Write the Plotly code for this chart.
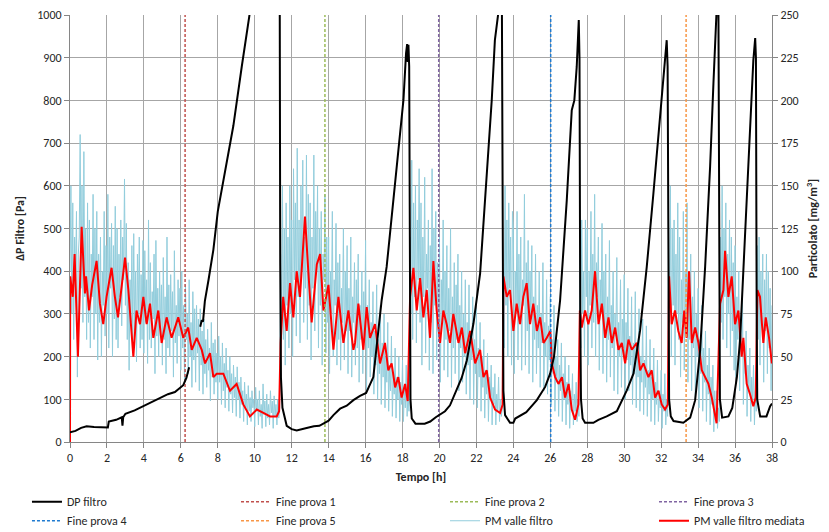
import plotly.graph_objects as go

# ---------------- DATA ----------------
# DP filtro (Pa) - left axis
dp_t = [0.0, 0.3, 0.6, 0.9, 1.3, 1.7, 2.05, 2.1, 2.5, 2.8, 2.84, 2.88, 3.0, 3.5, 4.06, 4.5, 4.96, 5.3, 5.68, 6.13, 6.3, 6.45,
        6.5,
        7.05, 7.13, 7.2, 7.3, 7.5, 7.76, 8.0, 8.3, 8.84, 9.3, 9.66, 9.75, 10.5, 11.35, 11.38, 11.42, 11.5, 11.73, 12.0, 12.27,
        12.81, 13.2, 13.5, 13.72, 14.0, 14.26, 14.62, 14.98, 15.34, 15.7, 16.03, 16.42, 16.69, 16.87, 17.14, 17.51, 17.78,
        18.05, 18.19, 18.25, 18.28, 18.32, 18.36, 18.4, 18.43, 18.5, 18.7, 19.2, 19.5, 19.8, 20.0, 20.3, 20.57, 20.94, 21.2,
        21.48, 21.84, 22.2, 22.56, 22.83, 23.0, 23.15, 23.2, 23.38, 23.42, 23.46, 23.55, 23.82, 24.0, 24.1, 24.7, 25.27, 25.72,
        25.99, 26.2, 26.35, 26.53, 26.89, 27.16, 27.3, 27.43, 27.54, 27.58, 27.62, 27.66, 27.75, 27.88, 28.33, 28.6, 29.05,
        29.6, 30.14, 30.5, 30.86, 31.22, 31.58, 31.94, 32.21, 32.3, 32.35, 32.39, 32.43, 32.52, 32.67, 33.2, 33.57, 33.84,
        34.11, 34.38, 34.65, 34.83, 34.98, 35.0, 35.1, 35.14, 35.18, 35.3, 35.64, 35.85, 36.1, 36.27, 36.55, 36.82, 36.99,
        37.09, 37.13, 37.17, 37.2, 37.36, 37.7, 37.9, 38.0]
dp_v = [23, 26, 33, 37, 35, 34, 34, 48, 52, 58, 38, 58, 66, 74, 86, 96, 106, 112, 117, 133, 150, 175,
        None,
        270, 285, 282, 330, 380, 450, 540, 610, 740, 880, 990, 1010, 1100, 1100, 420, 150, 80, 38, 30, 27,
        33, 37, 38, 43, 50, 63, 78, 85, 98, 108, 115, 152, 262, 332, 410, 566, 684,
        801, 910, 932, 890, 930, 880, 300, 100, 55, 43, 43, 48, 58, 63, 72, 86, 125, 150,
        191, 278, 395, 629, 801, 941, 995, 1010, 1010, 400, 120, 63, 45, 45, 55, 70, 98, 129,
        160, 200, 254, 332, 566, 777, 800, 879, 988, 900, 300, 100, 55, 45, 45, 52, 60,
        72, 121, 160, 262, 410, 582, 762, 894, 941, 880, 300, 100, 60, 49, 45, 57, 98,
        215, 410, 645, 840, 990, 1010, 1010, 400, 100, 57, 60, 80, 152, 238, 488, 723, 894,
        946, 900, 300, 100, 60, 60, 84, 90]

# End-of-test markers (h)
fine_names = ["Fine prova 1", "Fine prova 2", "Fine prova 3", "Fine prova 4", "Fine prova 5"]
fine_t = [6.23, 13.8, 19.96, 26.02, 33.35]
fine_colors = ["#C0504D", "#9BBB59", "#8064A2", "#1F7BD0", "#F79646"]

# PM valle filtro mediata (mg/m3) - right axis
red_t = [0.0, 0.01, 0.15, 0.25, 0.43, 0.63, 0.81, 0.87, 1.03, 1.2, 1.44, 1.62, 1.8, 1.98, 2.25, 2.43, 2.6, 2.79, 2.98,
         3.16, 3.43, 3.6, 3.79, 3.97, 4.15, 4.33, 4.51, 4.78, 4.96, 5.23, 5.5, 5.86, 6.13, 6.4, 6.59, 6.86, 7.13, 7.31,
         7.58, 7.76, 7.94, 8.3, 8.66, 9.02, 9.38, 9.74, 10.11, 10.47, 10.83, 11.19, 11.32, 11.4, 11.54, 11.73, 11.91,
         12.09, 12.27, 12.45, 12.72, 12.9, 13.08, 13.36, 13.54, 13.72, 13.99, 14.26, 14.53, 14.8, 15.07, 15.34, 15.43,
         15.61, 15.75, 15.88, 16.06, 16.24, 16.51, 16.78, 17.05, 17.23, 17.41, 17.6, 17.77, 17.95, 18.14, 18.28, 18.41,
         18.59, 18.77, 18.95, 19.13, 19.31, 19.49, 19.67, 19.85, 20.03, 20.21, 20.39, 20.57, 20.75, 21.03, 21.21, 21.39,
         21.66, 21.93, 22.2, 22.38, 22.56, 22.74, 23.01, 23.28, 23.42, 23.46, 23.64, 23.82, 24.0, 24.18, 24.36, 24.54,
         24.72, 24.9, 25.08, 25.27, 25.45, 25.63, 25.81, 26.0, 26.08, 26.26, 26.44, 26.63, 26.8, 26.99, 27.16, 27.34,
         27.52, 27.6, 27.7, 27.88, 28.06, 28.24, 28.42, 28.61, 28.79, 28.97, 29.15, 29.33, 29.51, 29.69, 29.87, 30.05,
         30.23, 30.41, 30.68, 30.86, 31.04, 31.31, 31.49, 31.67, 31.85, 32.03, 32.21, 32.36, 32.43, 32.57, 32.75, 32.93,
         33.11, 33.25, 33.38, 33.51, 33.66, 33.84, 34.02, 34.2, 34.38, 34.56, 34.74, 34.92, 35.0, 35.19, 35.37, 35.46,
         35.64, 35.82, 36.0, 36.18, 36.36, 36.45, 36.63, 36.81, 36.99, 37.12, 37.21, 37.35, 37.53, 37.66, 37.84, 37.99]
red_v = [0, 97, 85, 110, 50, 126, 87, 97, 77, 92, 106, 81, 69, 85, 102, 85, 73, 92, 108,
         89, 50, 77, 69, 85, 69, 81, 61, 77, 58, 73, 61, 73, 61, 67, 54, 61, 54, 46,
         52, 38, 40, 40, 30, 34, 22, 15, 19, 17, 15, 15, 18, 58, 85, 65, 93,
         73, 100, 85, 132, 100, 70, 104, 110, 77, 92, 54, 85, 58, 77, 54, 58,
         81, 65, 54, 79, 61, 69, 46, 58, 42, 46, 32, 38, 26, 34, 24, 85,
         102, 77, 96, 73, 89, 61, 106, 77, 58, 77, 69, 58, 75, 58, 67, 52,
         65, 46, 54, 38, 42, 26, 19, 17, 22, 97, 85, 89, 65, 81, 69, 85,
         93, 69, 81, 65, 73, 58, 61, 65, 46, 38, 34, 38, 26, 34, 19, 13,
         22, 77, 67, 77, 69, 77, 100, 69, 81, 61, 73, 58, 67, 54, 58, 46,
         60, 54, 58, 42, 46, 38, 42, 26, 30, 22, 19, 22, 97, 69, 77, 65,
         58, 77, 61, 100, 58, 67, 58, 42, 38, 34, 26, 15, 11, 81, 89, 112,
         85, 97, 69, 77, 50, 61, 34, 28, 21, 26, 89, 85, 58, 73, 61, 46]

# PM valle filtro (mg/m3): one row per hour, one reading every 0.05 h
blue_rows = [
    [100, 150, 75, 140, 60, 120, 95, 135, 38, 110, 120, 180, 90, 150, 70, 170, 85, 125, 60, 140],
    [70, 130, 55, 110, 85, 145, 60, 125, 75, 135, 48, 110, 70, 120, 50, 100, 80, 135, 62, 115],
    [75, 145, 55, 120, 90, 128, 50, 115, 72, 138, 60, 125, 55, 110, 85, 130, 68, 120, 95, 154],
    [80, 128, 60, 105, 42, 95, 70, 115, 58, 122, 65, 100, 47, 110, 75, 120, 55, 98, 60, 118],
    [52, 112, 70, 95, 46, 130, 60, 105, 55, 88, 72, 110, 40, 118, 62, 90, 50, 100, 65, 92],
    [45, 108, 60, 85, 40, 120, 55, 92, 50, 98, 65, 88, 38, 112, 58, 80, 46, 95, 62, 90],
    [42, 100, 55, 80, 36, 92, 60, 75, 40, 95, 50, 70, 32, 88, 48, 78, 35, 80, 52, 72],
    [30, 78, 45, 65, 28, 72, 40, 60, 32, 66, 42, 55, 24, 70, 38, 58, 28, 60, 35, 52],
    [25, 62, 35, 50, 22, 58, 30, 46, 20, 55, 32, 42, 18, 50, 28, 40, 17, 45, 26, 38],
    [15, 44, 25, 35, 14, 38, 22, 30, 12, 35, 20, 28, 10, 33, 18, 26, 12, 30, 20, 25],
    [9, 32, 18, 25, 10, 30, 15, 22, 8, 34, 16, 24, 9, 28, 14, 22, 10, 30, 17, 24],
    [8, 27, 15, 22, 10, 25, 14, 20, 110, 70, 150, 60, 125, 45, 140, 80, 120, 55, 150, 75],
    [130, 50, 160, 95, 140, 62, 172, 85, 130, 58, 150, 100, 165, 70, 120, 90, 168, 60, 145, 80],
    [140, 48, 120, 90, 168, 65, 135, 100, 150, 55, 125, 80, 135, 45, 110, 95, 145, 52, 120, 70],
    [120, 40, 100, 75, 135, 50, 95, 80, 128, 45, 105, 60, 110, 42, 90, 70, 125, 48, 100, 65],
    [115, 40, 90, 65, 120, 38, 85, 70, 105, 45, 95, 55, 110, 35, 80, 60, 100, 40, 88, 58],
    [118, 30, 80, 55, 95, 38, 70, 50, 88, 28, 65, 45, 92, 25, 60, 40, 80, 22, 58, 38],
    [75, 20, 50, 35, 70, 18, 45, 30, 62, 15, 40, 28, 55, 14, 38, 25, 50, 12, 35, 22],
    [48, 12, 32, 20, 45, 15, 30, 18, 120, 75, 165, 60, 140, 85, 150, 58, 130, 95, 160, 70],
    [140, 45, 120, 85, 155, 52, 110, 90, 130, 42, 115, 70, 160, 40, 125, 80, 135, 48, 105, 75],
    [120, 35, 95, 70, 130, 42, 100, 60, 115, 38, 90, 65, 125, 32, 85, 55, 105, 40, 92, 60],
    [110, 30, 80, 55, 100, 35, 75, 50, 95, 28, 70, 45, 92, 25, 65, 48, 85, 22, 60, 40],
    [78, 20, 55, 38, 70, 18, 50, 32, 60, 14, 42, 28, 52, 12, 38, 25, 45, 10, 32, 22],
    [40, 10, 28, 18, 38, 12, 25, 15, 20, 100, 55, 150, 80, 130, 50, 140, 90, 120, 45, 135],
    [125, 40, 100, 75, 135, 48, 110, 70, 120, 42, 95, 80, 145, 45, 105, 65, 118, 40, 100, 72],
    [115, 35, 85, 60, 110, 40, 80, 55, 100, 32, 75, 58, 105, 30, 70, 50, 95, 28, 68, 48],
    [85, 22, 60, 40, 80, 18, 50, 35, 60, 15, 45, 30, 58, 12, 40, 25, 50, 10, 35, 22],
    [45, 8, 30, 20, 40, 10, 28, 18, 35, 12, 25, 15, 110, 55, 130, 75, 100, 50, 130, 85],
    [125, 45, 100, 80, 135, 55, 110, 70, 145, 50, 105, 85, 120, 42, 95, 75, 128, 40, 100, 65],
    [110, 35, 85, 60, 118, 38, 80, 55, 100, 30, 75, 62, 108, 28, 70, 50, 95, 32, 72, 55],
    [98, 25, 70, 48, 90, 30, 62, 45, 85, 22, 58, 40, 88, 20, 55, 38, 78, 18, 50, 35],
    [72, 16, 48, 32, 68, 15, 42, 28, 60, 12, 38, 25, 55, 10, 35, 22, 48, 12, 30, 20],
    [42, 8, 28, 18, 40, 10, 25, 15, 120, 70, 150, 50, 125, 80, 130, 45, 110, 75, 140, 60],
    [120, 38, 95, 70, 135, 42, 100, 65, 140, 35, 90, 60, 110, 30, 85, 55, 100, 25, 75, 50],
    [90, 20, 60, 40, 80, 18, 55, 35, 65, 12, 45, 28, 55, 10, 38, 22, 45, 6, 30, 15],
    [30, 8, 20, 12, 120, 70, 150, 60, 125, 85, 140, 55, 110, 75, 130, 50, 120, 65, 105, 42],
    [115, 38, 85, 60, 100, 30, 70, 50, 85, 22, 55, 40, 65, 15, 45, 30, 55, 12, 38, 25],
    [45, 10, 30, 18, 115, 60, 120, 45, 100, 70, 110, 35, 95, 65, 110, 40, 100, 55, 90, 30],
    [80],
]
blue_t, blue_v = [], []
for hour, row in enumerate(blue_rows):
    for j, val in enumerate(row):
        blue_t.append(round(hour + j * 0.05, 2))
        blue_v.append(val)

x_ticks = list(range(0, 39, 2))
left_ticks = list(range(0, 1001, 100))
right_ticks = list(range(0, 251, 25))

# ---------------- FIGURE ----------------
FONT = "Carlito, Calibri, 'Liberation Sans Narrow', 'Open Sans', sans-serif"
GRID = "#A6A6A6"
AXL = "#868686"
TXT = "#262626"

fig = go.Figure()

# legend groups: 4 columns x 2 rows
col_of = {"DP filtro": "legend", "Fine prova 4": "legend",
          "Fine prova 1": "legend2", "Fine prova 5": "legend2",
          "Fine prova 2": "legend3", "PM valle filtro": "legend3",
          "Fine prova 3": "legend4", "PM valle filtro mediata": "legend4"}

fig.add_trace(go.Scatter(x=blue_t, y=blue_v, name="PM valle filtro", mode="lines",
                         line=dict(color="#92CDDC", width=1), yaxis="y", legendrank=7,
                         legend=col_of["PM valle filtro"]))
fig.add_trace(go.Scatter(x=red_t, y=red_v, name="PM valle filtro mediata", mode="lines",
                         line=dict(color="#FF0000", width=2), yaxis="y", legendrank=8,
                         legend=col_of["PM valle filtro mediata"]))

for i, (nm, tt, cc) in enumerate(zip(fine_names, fine_t, fine_colors)):
    fig.add_trace(go.Scatter(x=[tt, tt], y=[0, 1000], name=nm, mode="lines",
                             line=dict(color=cc, width=1.5, dash="3px,2px"), yaxis="y2",
                             legendrank=2 + i, legend=col_of[nm]))

fig.add_trace(go.Scatter(x=dp_t, y=dp_v, name="DP filtro", mode="lines", connectgaps=False,
                         line=dict(color="#000000", width=2), yaxis="y2", legendrank=1,
                         legend=col_of["DP filtro"]))

axis_common = dict(showline=True, linecolor=AXL, linewidth=1, ticks="outside", ticklen=5,
                   tickcolor=AXL, tickfont=dict(family=FONT, size=12, color=TXT),
                   zeroline=False)

leg_y = -0.106
leg_cols = [-0.0613, 0.2365, 0.5342, 0.8319]
leg_common = dict(orientation="v", xanchor="left", y=leg_y, yanchor="top",
                  font=dict(family=FONT, size=12, color=TXT), bgcolor="rgba(0,0,0,0)",
                  traceorder="normal", itemwidth=30, tracegroupgap=0)

fig.update_layout(
    width=829, height=532,
    margin=dict(l=70, r=57, t=15, b=90, autoexpand=False),
    paper_bgcolor="white", plot_bgcolor="white",
    font=dict(family=FONT, size=12, color=TXT),
    xaxis=dict(range=[0, 38], tickvals=x_ticks, showgrid=True, gridcolor=GRID, gridwidth=1,
               title=dict(text="<b>Tempo [h]</b>", standoff=8, font=dict(size=12)), **axis_common),
    yaxis=dict(range=[0, 250], tickvals=right_ticks, side="right", showgrid=True, gridcolor=GRID,
               gridwidth=1, anchor="x",
               title=dict(text="<b>Particolato [mg/m<sup>3</sup>]</b>", font=dict(size=12), standoff=10),
               **axis_common),
    yaxis2=dict(range=[0, 1000], tickvals=left_ticks, side="left", overlaying="y", showgrid=False,
                anchor="x",
                title=dict(text="<b>ΔP Filtro [Pa]</b>", font=dict(size=12), standoff=10),
                **axis_common),
    legend=dict(x=leg_cols[0], **leg_common),
    legend2=dict(x=leg_cols[1], **leg_common),
    legend3=dict(x=leg_cols[2], **leg_common),
    legend4=dict(x=leg_cols[3], **leg_common),
    showlegend=True,
)

fig.write_html("out.html")
